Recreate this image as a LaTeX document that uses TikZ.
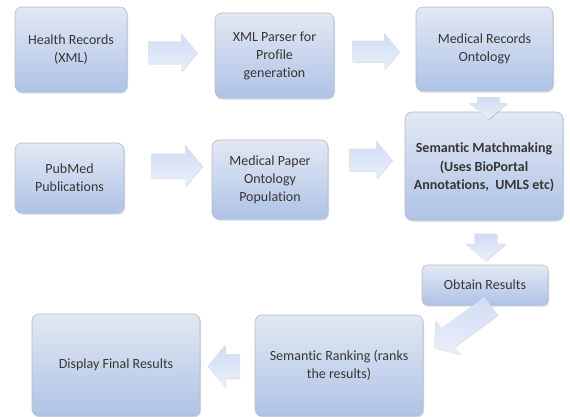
\documentclass[tikz,border=0pt]{standalone}
\usepackage{fontspec}
\setmainfont{Carlito}[Ligatures=NoCommon]
\usetikzlibrary{shapes.arrows,shadows,calc}

\definecolor{boxtop}{HTML}{E2E8F3}
\definecolor{boxbot}{HTML}{AFC3E6}
\definecolor{boxedge}{HTML}{B4BCCB}
\definecolor{arrtop}{HTML}{D0DCF3}
\definecolor{arrbot}{HTML}{EAF0FA}
\definecolor{txt}{HTML}{363636}

\tikzset{
  flowbox/.style={rectangle, rounded corners=7pt, draw=boxedge, line width=0.6pt,
    top color=boxtop, bottom color=boxbot, align=center, text=txt,
    font=\fontsize{14}{18}\selectfont, inner sep=2pt,
    drop shadow={shadow xshift=1pt, shadow yshift=-1.6pt, opacity=0.25, fill=black!60}},
  % shaft width = 2 * inner ysep, head width = shaft + 2 * head extend
  blockarrow/.style={single arrow, draw=none, inner xsep=0pt,
    top color=arrtop, bottom color=arrbot,
    single arrow tip angle=100,
    drop shadow={shadow xshift=0.8pt, shadow yshift=-1pt, opacity=0.12, fill=black}},
}

\begin{document}
\begin{tikzpicture}[x=1pt,y=-1pt]
\useasboundingbox (0,0) rectangle (570,417);

% first row
\node[flowbox, minimum width=112pt, minimum height=85pt] (health) at (71,49.5) {Health Records\\(XML)};
\node[flowbox, minimum width=119pt, minimum height=85pt] (parser) at (274.5,55.5) {XML Parser for\\Profile\\generation};
\node[flowbox, minimum width=137pt, minimum height=84pt] (medrec) at (484.5,49) {Medical Records\\Ontology};

% second row
\node[flowbox, minimum width=109pt, minimum height=70pt] (pubmed) at (69.5,178) {PubMed\\Publications};
\node[flowbox, minimum width=116pt, minimum height=79pt] (medpaper) at (270,179.5) {Medical Paper\\Ontology\\Population};
\node[flowbox, minimum width=158pt, minimum height=108pt, font=\fontsize{14}{18.5}\selectfont\bfseries] (match) at (484,166)
  {\mbox{}\\[-6pt]Semantic Matchmaking\\(Uses BioPortal\\Annotations,\ \ UMLS etc)};

% results and ranking
\node[flowbox, minimum width=126pt, minimum height=40pt, rounded corners=5pt] (obtain) at (485,285) {Obtain Results};
\node[flowbox, minimum width=168pt, minimum height=101pt] (ranking) at (339,365.5) {Semantic Ranking (ranks\\the results)};
\node[flowbox, minimum width=168pt, minimum height=102pt] (display) at (116,365) {Display Final Results};

% block arrows between the boxes
\node[blockarrow, minimum height=49pt, inner ysep=11pt, single arrow head extend=8pt]
  (a1) at ($(health.east)!0.5!(parser.west)+(-3,0)$) {};
\node[blockarrow, minimum height=47pt, inner ysep=10.5pt, single arrow head extend=7.5pt]
  (a2) at ($(parser.east)!0.5!(medrec.west)+(-3.5,-1)$) {};
\node[blockarrow, minimum height=22pt, inner ysep=11pt, single arrow head extend=8pt, rotate=-90]
  (a3) at ($(medrec.south)!0.5!(match.north)+(4,2)$) {};
\node[blockarrow, minimum height=51pt, inner ysep=12pt, single arrow head extend=9pt]
  (a4) at ($(pubmed.east)!0.5!(medpaper.west)+(4,-13)$) {};
\node[blockarrow, minimum height=43pt, inner ysep=11pt, single arrow head extend=8pt]
  (a5) at ($(medpaper.east)!0.5!(match.west)+(-0.5,-13)$) {};
\node[blockarrow, minimum height=27pt, inner ysep=11pt, single arrow head extend=9pt, rotate=-90]
  (a6) at ($(match.south)!0.5!(obtain.north)+(1,0)$) {};
\node[blockarrow, minimum height=71pt, inner ysep=11pt, single arrow head extend=10pt, rotate=216]
  (a7) at ($(obtain.south)!0.5!(ranking.north east)+(12,14)$) {};
\node[blockarrow, minimum height=32pt, inner ysep=12pt, single arrow head extend=9pt, rotate=180]
  (a8) at ($(ranking.west)!0.5!(display.east)+(1,1)$) {};
\end{tikzpicture}
\end{document}
